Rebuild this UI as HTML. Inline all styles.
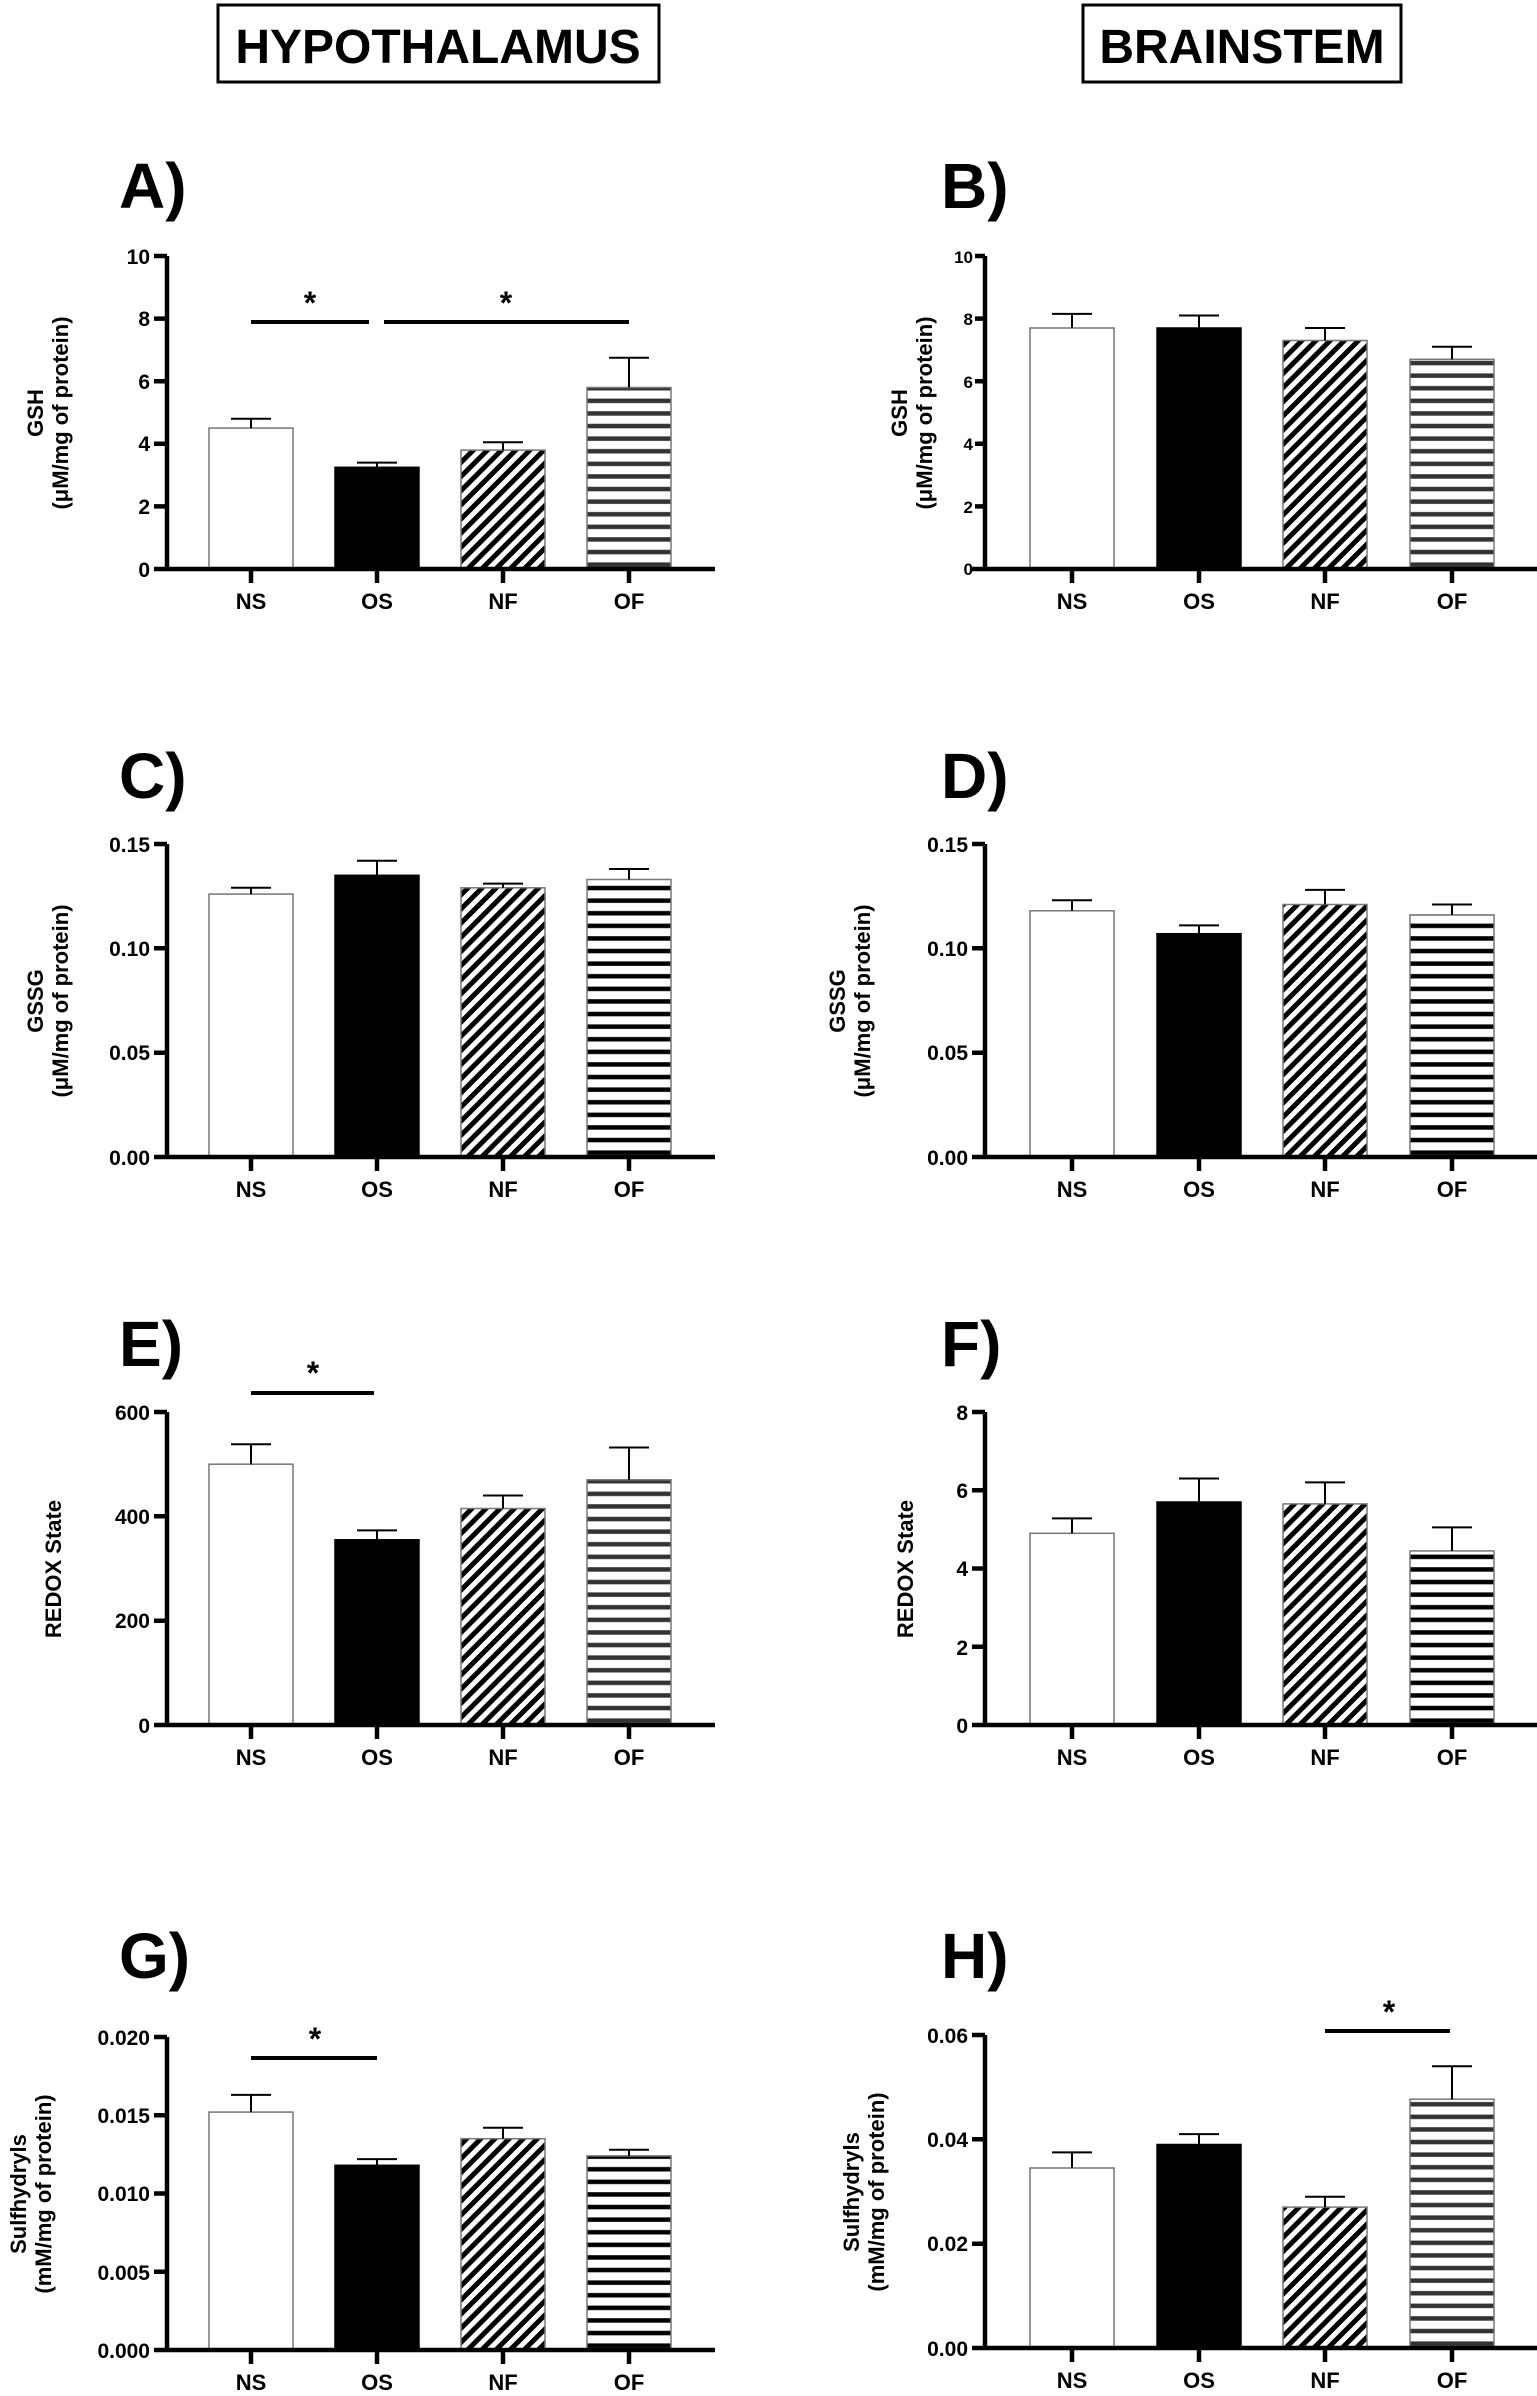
<!DOCTYPE html>
<html><head><meta charset="utf-8"><style>
html,body{margin:0;padding:0;background:#fff;}
svg{display:block;}
text{font-family:"Liberation Sans",Arial,sans-serif;font-weight:bold;fill:#000;}
.t{font-size:21px;}
.yl{font-size:21px;text-anchor:end;}
.xl{font-size:22px;text-anchor:middle;}
.at{font-size:22px;text-anchor:middle;}
.pl{font-size:64px;}
.st{font-size:32px;text-anchor:middle;}
.ax{stroke:#000;stroke-width:4.5;fill:none;}
.eb{stroke:#000;stroke-width:2;fill:none;}
.sg{stroke:#000;stroke-width:4;}
.bw{fill:#fff;stroke:#777;stroke-width:1.5;}
.bk{fill:#000;stroke:#000;stroke-width:1.5;}
.bh{fill:url(#hat);stroke:#777;stroke-width:1.5;}
.bs{fill:url(#hs);stroke:#777;stroke-width:1.5;}
.bg{fill:url(#hg);stroke:#777;stroke-width:1.5;}
</style></head><body>
<svg width="1537" height="2396" viewBox="0 0 1537 2396" xmlns="http://www.w3.org/2000/svg">
<defs>
<pattern id="hat" patternUnits="userSpaceOnUse" width="10" height="10" patternTransform="rotate(45)">
<rect width="10" height="10" fill="#fff"/><rect width="5" height="10" fill="#000"/></pattern>
<pattern id="hs" patternUnits="userSpaceOnUse" width="12" height="12.6" y="0">
<rect width="12" height="12.6" fill="#fff"/><rect y="6" width="12" height="4.5" fill="#000"/></pattern>
<pattern id="hg" patternUnits="userSpaceOnUse" width="12" height="12.6" y="0">
<rect width="12" height="12.6" fill="#fff"/><rect y="6" width="12" height="4.5" fill="#333"/></pattern>
</defs>

<rect x="218" y="5" width="441" height="77" fill="none" stroke="#000" stroke-width="3"/>
<text x="438" y="63" font-size="48" text-anchor="middle">HYPOTHALAMUS</text>
<rect x="1083" y="5" width="318" height="77" fill="none" stroke="#000" stroke-width="3"/>
<text x="1242" y="63" font-size="48" text-anchor="middle">BRAINSTEM</text>

<text class="pl" x="119" y="208">A)</text>
<text class="pl" x="941" y="208">B)</text>
<text class="pl" x="119" y="798">C)</text>
<text class="pl" x="941" y="798">D)</text>
<text class="pl" x="119" y="1366">E)</text>
<text class="pl" x="941" y="1366">F)</text>
<text class="pl" x="119" y="1978">G)</text>
<text class="pl" x="941" y="1978">H)</text>

<g transform="translate(167,569)">
<rect class="bw" x="42" y="-140.9" width="84" height="140.9"/>
<rect class="bk" x="168" y="-101.7" width="84" height="101.7"/>
<rect class="bh" x="294" y="-118.9" width="84" height="118.9"/>
<rect class="bg" x="420" y="-181.5" width="84" height="181.5"/>
<path class="eb" d="M84 -140.9V-150.2M64 -150.2H104 M210 -101.7V-106.4M190 -106.4H230 M336 -118.9V-126.8M316 -126.8H356 M462 -181.5V-211.3M442 -211.3H482"/>
<path class="ax" d="M0 -313V0M-13 0H548 M-13 -313H0 M-13 -250.4H0 M-13 -187.8H0 M-13 -125.2H0 M-13 -62.6H0 M84 0V14 M210 0V14 M336 0V14 M462 0V14"/>
<text class="yl" x="-17" y="-305">10</text><text class="yl" x="-17" y="-243">8</text><text class="yl" x="-17" y="-180">6</text><text class="yl" x="-17" y="-118">4</text><text class="yl" x="-17" y="-55">2</text><text class="yl" x="-17" y="8">0</text>
<text class="xl" x="84" y="40">NS</text><text class="xl" x="210" y="40">OS</text><text class="xl" x="336" y="40">NF</text><text class="xl" x="462" y="40">OF</text>
<line class="sg" x1="84" y1="-247" x2="202" y2="-247"/><line class="sg" x1="217" y1="-247" x2="462" y2="-247"/>
<text class="st" x="143" y="-255">*</text><text class="st" x="339" y="-255">*</text>
<g transform="translate(-124,-156) rotate(-90)"><text class="at" x="0" y="0">GSH</text><text class="at" x="0" y="25">(μM/mg of protein)</text></g>
</g>

<g transform="translate(985,569)">
<rect class="bw" x="45" y="-241" width="84" height="241"/>
<rect class="bk" x="172" y="-241" width="84" height="241"/>
<rect class="bh" x="298" y="-228.5" width="84" height="228.5"/>
<rect class="bg" x="425" y="-209.7" width="84" height="209.7"/>
<path class="eb" d="M87 -241V-255.1M67 -255.1H107 M214 -241V-253.5M194 -253.5H234 M340 -228.5V-241M320 -241H360 M467 -209.7V-222.2M447 -222.2H487"/>
<path class="ax" d="M0 -313V0M-13 0H552 M-10 -313H0 M-10 -250.4H0 M-10 -187.8H0 M-10 -125.2H0 M-10 -62.6H0 M87 0V14 M214 0V14 M340 0V14 M467 0V14"/>
<text class="yl" style="font-size:17px" x="-12" y="-306">10</text><text class="yl" style="font-size:17px" x="-12" y="-244">8</text><text class="yl" style="font-size:17px" x="-12" y="-181">6</text><text class="yl" style="font-size:17px" x="-12" y="-119">4</text><text class="yl" style="font-size:17px" x="-12" y="-56">2</text><text class="yl" style="font-size:17px" x="-12" y="6">0</text>
<text class="xl" x="87" y="40">NS</text><text class="xl" x="214" y="40">OS</text><text class="xl" x="340" y="40">NF</text><text class="xl" x="467" y="40">OF</text>
<g transform="translate(-78,-156) rotate(-90)"><text class="at" x="0" y="0">GSH</text><text class="at" x="0" y="25">(μM/mg of protein)</text></g>
</g>

<g transform="translate(167,1157)">
<rect class="bw" x="42" y="-262.9" width="84" height="262.9"/>
<rect class="bk" x="168" y="-281.7" width="84" height="281.7"/>
<rect class="bh" x="294" y="-269.2" width="84" height="269.2"/>
<rect class="bs" x="420" y="-277.5" width="84" height="277.5"/>
<path class="eb" d="M84 -262.9V-269.2M64 -269.2H104 M210 -281.7V-296.3M190 -296.3H230 M336 -269.2V-273.4M316 -273.4H356 M462 -277.5V-288M442 -288H482"/>
<path class="ax" d="M0 -313V0M-13 0H548 M-13 -313H0 M-13 -208.7H0 M-13 -104.3H0 M84 0V14 M210 0V14 M336 0V14 M462 0V14"/>
<text class="yl" x="-17" y="-305">0.15</text><text class="yl" x="-17" y="-201">0.10</text><text class="yl" x="-17" y="-97">0.05</text><text class="yl" x="-17" y="8">0.00</text>
<text class="xl" x="84" y="40">NS</text><text class="xl" x="210" y="40">OS</text><text class="xl" x="336" y="40">NF</text><text class="xl" x="462" y="40">OF</text>
<g transform="translate(-124,-156) rotate(-90)"><text class="at" x="0" y="0">GSSG</text><text class="at" x="0" y="25">(μM/mg of protein)</text></g>
</g>

<g transform="translate(985,1157)">
<rect class="bw" x="45" y="-246.2" width="84" height="246.2"/>
<rect class="bk" x="172" y="-223.3" width="84" height="223.3"/>
<rect class="bh" x="298" y="-252.5" width="84" height="252.5"/>
<rect class="bs" x="425" y="-242.1" width="84" height="242.1"/>
<path class="eb" d="M87 -246.2V-256.7M67 -256.7H107 M214 -223.3V-231.6M194 -231.6H234 M340 -252.5V-267.1M320 -267.1H360 M467 -242.1V-252.5M447 -252.5H487"/>
<path class="ax" d="M0 -313V0M-13 0H552 M-13 -313H0 M-13 -208.7H0 M-13 -104.3H0 M87 0V14 M214 0V14 M340 0V14 M467 0V14"/>
<text class="yl" x="-17" y="-305">0.15</text><text class="yl" x="-17" y="-201">0.10</text><text class="yl" x="-17" y="-97">0.05</text><text class="yl" x="-17" y="8">0.00</text>
<text class="xl" x="87" y="40">NS</text><text class="xl" x="214" y="40">OS</text><text class="xl" x="340" y="40">NF</text><text class="xl" x="467" y="40">OF</text>
<g transform="translate(-140,-156) rotate(-90)"><text class="at" x="0" y="0">GSSG</text><text class="at" x="0" y="25">(μM/mg of protein)</text></g>
</g>

<g transform="translate(167,1725)">
<rect class="bw" x="42" y="-260.8" width="84" height="260.8"/>
<rect class="bk" x="168" y="-185.2" width="84" height="185.2"/>
<rect class="bh" x="294" y="-216.5" width="84" height="216.5"/>
<rect class="bg" x="420" y="-245.2" width="84" height="245.2"/>
<path class="eb" d="M84 -260.8V-280.7M64 -280.7H104 M210 -185.2V-194.6M190 -194.6H230 M336 -216.5V-229.5M316 -229.5H356 M462 -245.2V-277.5M442 -277.5H482"/>
<path class="ax" d="M0 -313V0M-13 0H548 M-13 -313H0 M-13 -208.7H0 M-13 -104.3H0 M84 0V14 M210 0V14 M336 0V14 M462 0V14"/>
<text class="yl" x="-17" y="-305">600</text><text class="yl" x="-17" y="-201">400</text><text class="yl" x="-17" y="-97">200</text><text class="yl" x="-17" y="8">0</text>
<text class="xl" x="84" y="40">NS</text><text class="xl" x="210" y="40">OS</text><text class="xl" x="336" y="40">NF</text><text class="xl" x="462" y="40">OF</text>
<line class="sg" x1="84" y1="-332" x2="207" y2="-332"/>
<text class="st" x="146" y="-341">*</text>
<g transform="translate(-106,-156) rotate(-90)"><text class="at" x="0" y="0">REDOX State</text></g>
</g>

<g transform="translate(985,1725)">
<rect class="bw" x="45" y="-191.7" width="84" height="191.7"/>
<rect class="bk" x="172" y="-223" width="84" height="223"/>
<rect class="bh" x="298" y="-221.1" width="84" height="221.1"/>
<rect class="bs" x="425" y="-174.1" width="84" height="174.1"/>
<path class="eb" d="M87 -191.7V-206.6M67 -206.6H107 M214 -223V-246.5M194 -246.5H234 M340 -221.1V-242.6M320 -242.6H360 M467 -174.1V-197.6M447 -197.6H487"/>
<path class="ax" d="M0 -313V0M-13 0H552 M-13 -313H0 M-13 -234.8H0 M-13 -156.5H0 M-13 -78.3H0 M87 0V14 M214 0V14 M340 0V14 M467 0V14"/>
<text class="yl" x="-17" y="-305">8</text><text class="yl" x="-17" y="-227">6</text><text class="yl" x="-17" y="-149">4</text><text class="yl" x="-17" y="-70">2</text><text class="yl" x="-17" y="8">0</text>
<text class="xl" x="87" y="40">NS</text><text class="xl" x="214" y="40">OS</text><text class="xl" x="340" y="40">NF</text><text class="xl" x="467" y="40">OF</text>
<g transform="translate(-72,-156) rotate(-90)"><text class="at" x="0" y="0">REDOX State</text></g>
</g>

<g transform="translate(167,2350)">
<rect class="bw" x="42" y="-237.9" width="84" height="237.9"/>
<rect class="bk" x="168" y="-184.7" width="84" height="184.7"/>
<rect class="bh" x="294" y="-211.3" width="84" height="211.3"/>
<rect class="bs" x="420" y="-194.1" width="84" height="194.1"/>
<path class="eb" d="M84 -237.9V-255.1M64 -255.1H104 M210 -184.7V-190.9M190 -190.9H230 M336 -211.3V-222.2M316 -222.2H356 M462 -194.1V-200.3M442 -200.3H482"/>
<path class="ax" d="M0 -313V0M-13 0H548 M-13 -313H0 M-13 -234.8H0 M-13 -156.5H0 M-13 -78.3H0 M84 0V14 M210 0V14 M336 0V14 M462 0V14"/>
<text class="yl" x="-17" y="-305">0.020</text><text class="yl" x="-17" y="-227">0.015</text><text class="yl" x="-17" y="-149">0.010</text><text class="yl" x="-17" y="-70">0.005</text><text class="yl" x="-17" y="8">0.000</text>
<text class="xl" x="84" y="40">NS</text><text class="xl" x="210" y="40">OS</text><text class="xl" x="336" y="40">NF</text><text class="xl" x="462" y="40">OF</text>
<line class="sg" x1="84" y1="-292" x2="210" y2="-292"/>
<text class="st" x="148" y="-300">*</text>
<g transform="translate(-141,-156) rotate(-90)"><text class="at" x="0" y="0">Sulfhydryls</text><text class="at" x="0" y="25">(mM/mg of protein)</text></g>
</g>

<g transform="translate(985,2348)">
<rect class="bw" x="45" y="-180" width="84" height="180"/>
<rect class="bk" x="172" y="-203.5" width="84" height="203.5"/>
<rect class="bh" x="298" y="-140.9" width="84" height="140.9"/>
<rect class="bg" x="425" y="-248.8" width="84" height="248.8"/>
<path class="eb" d="M87 -180V-195.6M67 -195.6H107 M214 -203.5V-213.9M194 -213.9H234 M340 -140.9V-151.3M320 -151.3H360 M467 -248.8V-281.7M447 -281.7H487"/>
<path class="ax" d="M0 -313V0M-13 0H552 M-13 -313H0 M-13 -208.7H0 M-13 -104.3H0 M87 0V14 M214 0V14 M340 0V14 M467 0V14"/>
<text class="yl" x="-17" y="-305">0.06</text><text class="yl" x="-17" y="-201">0.04</text><text class="yl" x="-17" y="-97">0.02</text><text class="yl" x="-17" y="8">0.00</text>
<text class="xl" x="87" y="40">NS</text><text class="xl" x="214" y="40">OS</text><text class="xl" x="340" y="40">NF</text><text class="xl" x="467" y="40">OF</text>
<line class="sg" x1="340" y1="-317" x2="465" y2="-317"/>
<text class="st" x="404" y="-325">*</text>
<g transform="translate(-126,-156) rotate(-90)"><text class="at" x="0" y="0">Sulfhydryls</text><text class="at" x="0" y="25">(mM/mg of protein)</text></g>
</g>
</svg>
</body></html>
